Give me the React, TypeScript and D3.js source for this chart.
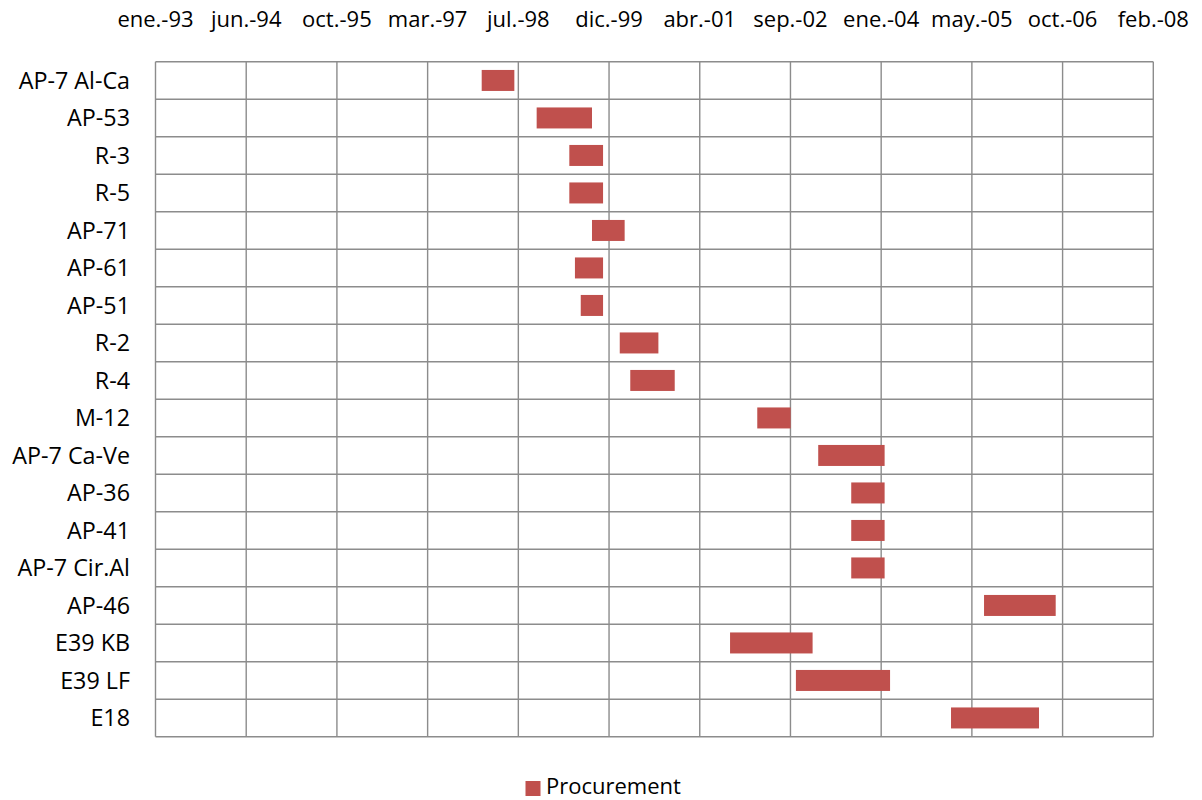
import React from "react";
import * as d3 from "d3";

// Projects in display order (top to bottom)
const projects = [
  "AP-7 Al-Ca", "AP-53", "R-3", "R-5", "AP-71", "AP-61", "AP-51", "R-2", "R-4",
  "M-12", "AP-7 Ca-Ve", "AP-36", "AP-41", "AP-7 Cir.Al", "AP-46", "E39 KB", "E39 LF", "E18",
];

// Procurement start and end dates for each project
const procurementStart = [
  "1998-01-03", "1998-11-02", "1999-05-01", "1999-05-01", "1999-09-03", "1999-06-01",
  "1999-07-03", "2000-02-03", "2000-04-01", "2002-03-02", "2003-02-01", "2003-08-02",
  "2003-08-02", "2003-08-02", "2005-08-03", "2001-10-03", "2002-10-01", "2005-02-02",
];
const procurementEnd = [
  "1998-07-02", "1999-09-03", "1999-11-03", "1999-11-03", "2000-03-01", "1999-11-03",
  "1999-11-03", "2000-09-03", "2000-12-02", "2002-09-02", "2004-02-02", "2004-02-02",
  "2004-02-02", "2004-02-02", "2006-09-02", "2003-01-01", "2004-03-03", "2006-06-02",
];

// Axis range and tick step (days)
const axisStart = "1993-01-31";
const axisEnd = "2008-02-22";
const tickStepDays = 500;

const monthAbbr = ["ene.", "feb.", "mar.", "abr.", "may.", "jun.", "jul.", "ago.", "sep.", "oct.", "nov.", "dic."];
const seriesName = "Procurement";

const W = 1202;
const H = 800;
const margin = { left: 155.5, right: 1153.3, top: 61.7, bottom: 736.7 };
const FONT = "'Open Sans', sans-serif";
const BAR = "#c0504d";
const GRID = "#8c8c8c";

const parse = (s: string) => new Date(s + "T00:00:00Z");
const fmt = (d: Date) => `${monthAbbr[d.getUTCMonth()]}-${String(d.getUTCFullYear()).slice(2)}`;

export default function App() {
  const x = d3.scaleUtc().domain([parse(axisStart), parse(axisEnd)]).range([margin.left, margin.right]);
  const y = d3.scaleBand<string>().domain(projects).range([margin.top, margin.bottom]).paddingInner(0.44).paddingOuter(0.22);
  const rows = d3.scaleBand<string>().domain(projects).range([margin.top, margin.bottom]);

  const t0 = parse(axisStart).getTime();
  const t1 = parse(axisEnd).getTime();
  const ticks: Date[] = [];
  for (let t = t0; t <= t1 + 1; t += tickStepDays * 86400000) ticks.push(new Date(t));

  return (
    <svg width={W} height={H} style={{ display: "block", position: "absolute", left: 0, top: 0 }}>
      <rect x={0} y={0} width={W} height={H} fill="#fff" />
      {/* horizontal row lines */}
      {projects.map((p) => (
        <line key={"h" + p} x1={margin.left} x2={margin.right} y1={rows(p)!} y2={rows(p)!} stroke={GRID} strokeWidth={1.4} />
      ))}
      <line x1={margin.left} x2={margin.right} y1={margin.bottom} y2={margin.bottom} stroke={GRID} strokeWidth={1.4} />
      {/* vertical gridlines */}
      {ticks.map((t, i) => (
        <line key={"v" + i} x1={x(t)} x2={x(t)} y1={margin.top} y2={margin.bottom} stroke={GRID} strokeWidth={1.4} />
      ))}
      {/* tick labels on top */}
      {ticks.map((t, i) => (
        <text key={"t" + i} x={x(t)} y={27} textAnchor="middle" fontFamily={FONT} fontSize={22} fill="#000">
          {fmt(t)}
        </text>
      ))}
      {/* category labels */}
      {projects.map((p) => (
        <text key={"c" + p} x={130} y={rows(p)! + rows.bandwidth() / 2 + 8.5} textAnchor="end" fontFamily={FONT} fontSize={23.3} fill="#000">
          {p}
        </text>
      ))}
      {/* procurement bars */}
      {projects.map((p, i) => {
        const a = x(parse(procurementStart[i]));
        const b = x(parse(procurementEnd[i]));
        return <rect key={"b" + p} x={a} y={y(p)!} width={b - a} height={y.bandwidth()} fill={BAR} />;
      })}
      {/* legend */}
      <rect x={525.5} y={781} width={15} height={15} fill={BAR} />
      <text x={546} y={794} fontFamily={FONT} fontSize={22} fill="#000">{seriesName}</text>
    </svg>
  );
}
